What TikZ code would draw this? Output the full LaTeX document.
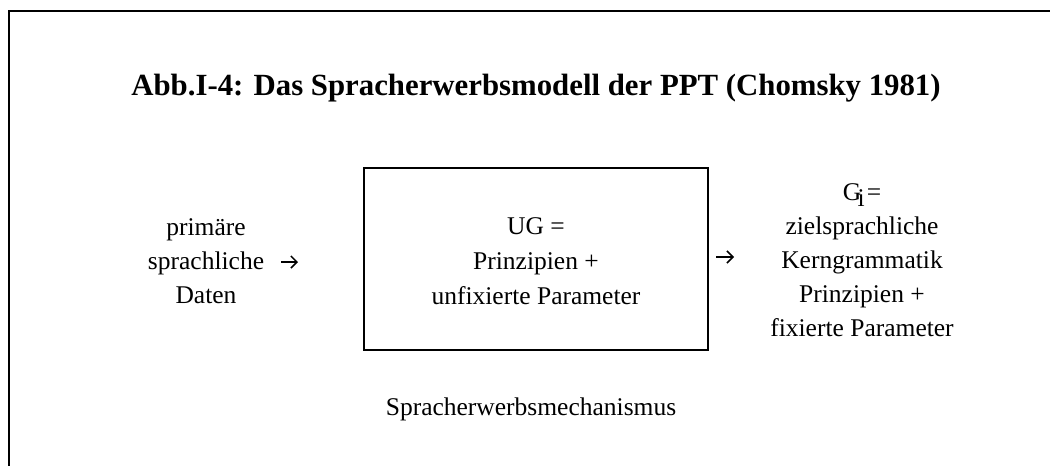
\documentclass[tikz,border=0pt]{standalone}
\usepackage{fontspec}
\setmainfont{Liberation Serif}
\usetikzlibrary{arrows.meta}
\tikzset{
  body/.style={font=\fontsize{25.5}{30}\selectfont, inner sep=0pt, anchor=base},
  heading/.style={font=\fontsize{30.8}{36}\selectfont\bfseries, inner sep=0pt, anchor=base},
  frameline/.style={line width=2pt, line cap=rect},
  boxline/.style={line width=1.3pt},
  glypharrow/.style={line width=1.5pt, -{Straight Barb[length=6pt, width=12pt, line width=1.5pt]}}
}
\begin{document}
\begin{tikzpicture}[x=1pt, y=-1pt]
  \useasboundingbox (0,0) rectangle (1050,466);

  % outer frame (open to the right and bottom)
  \coordinate (ftl) at (9,11);
  \coordinate (ftr) at (1050,11);
  \coordinate (fbl) at (9,466);
  \draw[frameline] (ftr) -- (ftl) -- (fbl);

  % heading
  \node[heading] (title) at (536,95) {Abb.I-4: Das Spracherwerbsmodell der PPT (Chomsky 1981)};

  % input data
  \node[body] (in1) at (206,235) {primäre};
  \node[body] (in2) at (206,269) {sprachliche};
  \node[body] (in3) at (206,303) {Daten};

  % acquisition device
  \node[draw, boxline, minimum width=344pt, minimum height=182pt, inner sep=0pt] (lad) at (536,259) {};
  \node[body] (ug1) at (536,234) {UG =};
  \node[body] (ug2) at (536,269) {Prinzipien +};
  \node[body] (ug3) at (536,304) {unfixierte Parameter};
  \node[body] (ladname) at (531,415) {Spracherwerbsmechanismus};

  % output grammar
  \node[body] (out1) at (862,200) {G\kern-3.5pt\raisebox{-6pt}{i}\kern2pt=};
  \node[body] (out2) at (862,234) {zielsprachliche};
  \node[body] (out3) at (862,268) {Kerngrammatik};
  \node[body] (out4) at (862,302) {Prinzipien +};
  \node[body] (out5) at (862,336) {fixierte Parameter};

  % arrows
  \coordinate (la1) at (281,262);
  \coordinate (la2) at (298,262);
  \coordinate (ra1) at (716,257);
  \coordinate (ra2) at (734,257);
  \draw[glypharrow] (la1) -- (la2);
  \draw[glypharrow] (ra1) -- (ra2);
\end{tikzpicture}
\end{document}
